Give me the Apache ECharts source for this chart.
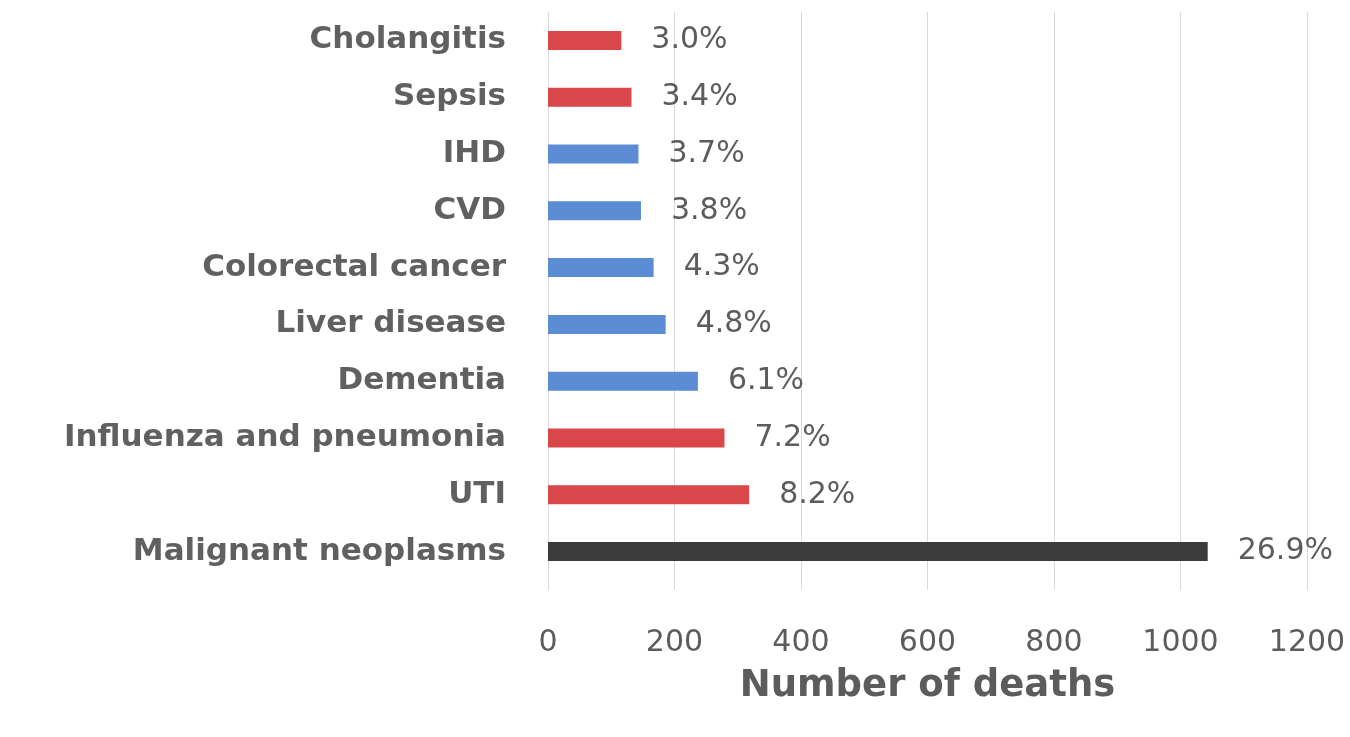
<!DOCTYPE html>
<html lang="en">
<head>
    <meta charset="UTF-8">
    <title>Causes of death</title>
    <script src="https://cdn.jsdelivr.net/npm/echarts@6/dist/echarts.min.js"></script>
    <style>
        html, body { margin: 0; padding: 0; background: #ffffff; }
        #chart { width: 1350px; height: 737px; }
    </style>
</head>
<body>
<div id="chart"></div>
<script>
    // bottom to top, as drawn
    var causes = ['Malignant neoplasms', 'UTI', 'Influenza and pneumonia', 'Dementia', 'Liver disease',
        'Colorectal cancer', 'CVD', 'IHD', 'Sepsis', 'Cholangitis'];
    var deaths = [1043, 318, 279, 237, 186, 167, 147, 143, 132, 116];
    var shares = ['26.9%', '8.2%', '7.2%', '6.1%', '4.8%', '4.3%', '3.8%', '3.7%', '3.4%', '3.0%'];
    var kinds = ['cancer', 'infection', 'infection', 'other', 'other', 'other', 'other', 'other', 'infection', 'infection'];
    var xTicks = [0, 200, 400, 600, 800, 1000, 1200];

    var kindColor = { cancer: '#3b3b3b', infection: '#d9474a', other: '#5b8cd4' };
    var textGrey = '#5c5c5c';
    var font = 'DejaVu Sans';

    var chart = echarts.init(document.getElementById('chart'));
    var option = {
        backgroundColor: '#ffffff',
        animation: false,
        grid: { left: 548, right: 43, top: 12, bottom: 157 },
        xAxis: {
            type: 'value',
            min: xTicks[0],
            max: xTicks[xTicks.length - 1],
            interval: 200,
            name: 'Number of deaths',
            nameLocation: 'middle',
            nameGap: 88,
            nameTextStyle: { fontFamily: font, fontSize: 37, fontWeight: 'bold', color: textGrey },
            axisLine: { show: false },
            axisTick: { show: true, length: 10, lineStyle: { color: '#d9d9d9' } },
            axisLabel: {
                margin: 48, fontFamily: font, fontSize: 30, color: textGrey,
                formatter: function (v) { return String(v); }
            },
            splitLine: { show: true, lineStyle: { color: '#d9d9d9', width: 1 } }
        },
        yAxis: {
            type: 'category',
            data: causes,
            axisLine: { show: false },
            axisTick: { show: false },
            axisLabel: { margin: 42, fontFamily: font, fontSize: 31, fontWeight: 'bold', color: '#606060' }
        },
        series: [{
            type: 'bar',
            barWidth: 19,
            data: deaths.map(function (v, i) {
                return { value: v, itemStyle: { color: kindColor[kinds[i]] } };
            }),
            label: {
                show: true,
                position: 'right',
                distance: 30,
                fontFamily: font,
                fontSize: 30,
                color: textGrey,
                formatter: function (p) { return shares[p.dataIndex]; }
            }
        }]
    };
    chart.setOption(option);
</script>
</body>
</html>
